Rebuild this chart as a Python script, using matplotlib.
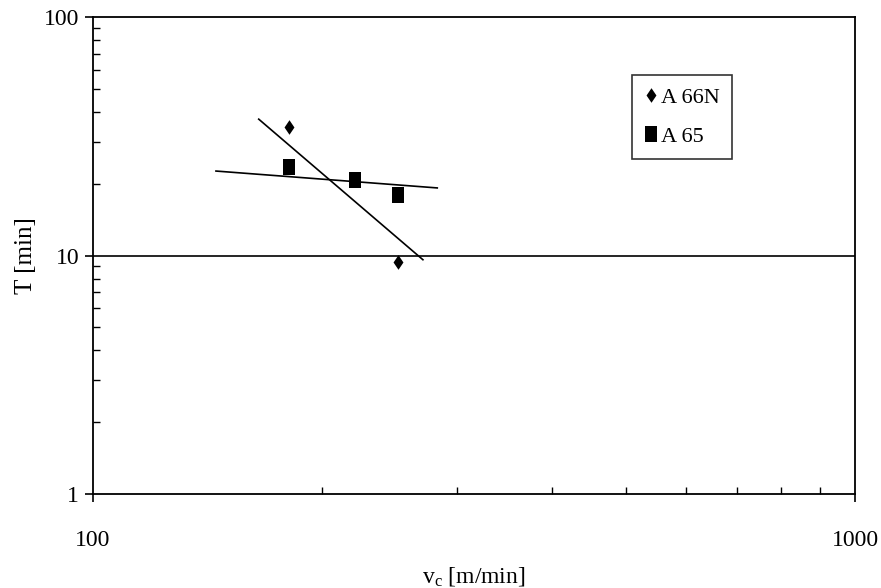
import matplotlib
matplotlib.use("Agg")
import matplotlib.pyplot as plt
from matplotlib.ticker import LogLocator, NullFormatter, FixedLocator, FixedFormatter

plt.rcParams['font.family'] = ['Liberation Serif', 'DejaVu Serif']
plt.rcParams['mathtext.default'] = 'regular'

# Data
a66n_vc = [181, 221, 251]
a66n_T = [34.6, 20.7, 9.4]
a65_vc = [181, 221, 251]
a65_T = [23.5, 20.7, 17.9]

# Trend lines (power fits) endpoints as drawn
a66n_fit_vc = [165, 271]
a66n_fit_T = [37.3, 9.6]
a65_fit_vc = [145, 283]
a65_fit_T = [22.6, 19.2]

x_ticks = [100, 1000]
x_tick_labels = ["100", "1000"]
y_ticks = [1, 10, 100]
y_tick_labels = ["1", "10", "100"]

diamond = [(0, 1), (0.68, 0), (0, -1), (-0.68, 0), (0, 1)]
rect = [(-0.75, -1), (0.75, -1), (0.75, 1), (-0.75, 1), (-0.75, -1)]

fig = plt.figure(figsize=(8.81, 5.88), dpi=100)
ax = fig.add_axes([93/881, 1-494/588, (855-93)/881, (494-17)/588])

ax.set_xscale('log')
ax.set_yscale('log')
ax.set_xlim(100, 1000)
ax.set_ylim(1, 100)

ax.plot(a66n_fit_vc, a66n_fit_T, color='black', lw=1.2, zorder=2)
ax.plot(a65_fit_vc, a65_fit_T, color='black', lw=1.2, zorder=2)
ax.plot(a66n_vc, a66n_T, linestyle='none', marker=diamond, ms=10.5, mew=0,
        color='black', label='A 66N', zorder=3)
ax.plot(a65_vc, a65_T, linestyle='none', marker=rect, ms=11.5, mew=0,
        color='black', label='A 65', zorder=4)

ax.axhline(10, color='black', lw=1.2, zorder=1)

ax.xaxis.set_major_locator(FixedLocator(x_ticks))
ax.xaxis.set_major_formatter(FixedFormatter(x_tick_labels))
ax.yaxis.set_major_locator(FixedLocator(y_ticks))
ax.yaxis.set_major_formatter(FixedFormatter(y_tick_labels))
ax.xaxis.set_minor_locator(LogLocator(base=10, subs=range(2, 10)))
ax.yaxis.set_minor_locator(LogLocator(base=10, subs=range(2, 10)))
ax.xaxis.set_minor_formatter(NullFormatter())
ax.yaxis.set_minor_formatter(NullFormatter())

ax.tick_params(which='major', direction='out', length=6, width=1.2,
               labelsize=17)
ax.tick_params(axis='x', which='major', pad=20)
ax.tick_params(axis='y', which='major', pad=4)
ax.tick_params(which='minor', direction='in', length=5, width=1.0)

for s in ax.spines.values():
    s.set_linewidth(1.3)
    s.set_color('black')

ax.set_xlabel('v$_{c}$ [m/min]', fontsize=17, va='center')
ax.xaxis.set_label_coords(0.5, (494-577)/477)
ax.set_ylabel('T [min]', fontsize=18, va='center')
ax.yaxis.set_label_coords((26-93)/762, 0.5)

leg = ax.legend(loc='upper left', bbox_to_anchor=((632-93)/762, (494-75)/477),
                borderaxespad=0, frameon=True, fancybox=False, fontsize=16,
                handlelength=0.6, handletextpad=0.15, borderpad=0.55,
                labelspacing=0.85, edgecolor='black')
leg.get_frame().set_linewidth(1.2)

fig.savefig('out.png', dpi=100)
